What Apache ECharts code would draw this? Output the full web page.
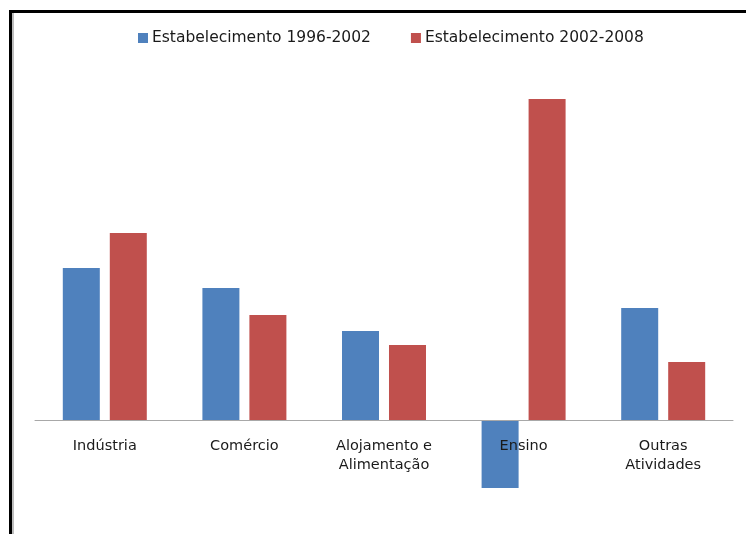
<!DOCTYPE html>
<html>
<head>
<meta charset="utf-8">
<script src="https://cdn.jsdelivr.net/npm/echarts@6/dist/echarts.min.js"></script>
<style>html,body{margin:0;padding:0;background:#fff}#c{width:746px;height:534px}</style>
</head>
<body>
<div id="c"></div>
<script>
var categories = ['Indústria', 'Comércio', 'Alojamento e\nAlimentação', 'Ensino', 'Outras\nAtividades'];
var seriesNames = ['Estabelecimento 1996-2002', 'Estabelecimento 2002-2008'];
var values1996 = [152, 132, 89, -68, 112];
var values2002 = [187, 105, 75, 321, 58];

var chart = echarts.init(document.getElementById('c'));
chart.setOption({
  backgroundColor: '#fff',
  animation: false,
  textStyle: { fontFamily: 'DejaVu Sans' },
  legend: {
    top: 25,
    left: 133,
    itemWidth: 10,
    itemHeight: 10,
    itemGap: 40,
    icon: 'rect',
    textStyle: { fontSize: 15.5, color: '#1a1a1a', fontFamily: 'DejaVu Sans', padding: [0, 0, 0, -1] },
    data: seriesNames
  },
  grid: { left: 35, right: 13, top: 99, bottom: 114, containLabel: false, outerBoundsMode: 'none' },
  xAxis: {
    type: 'category',
    data: categories,
    z: 10,
    axisLine: { onZero: true, lineStyle: { color: '#a8a8a8', width: 1 } },
    axisTick: { show: false },
    axisLabel: { color: '#1a1a1a', fontSize: 14.5, lineHeight: 19, margin: 17, fontFamily: 'DejaVu Sans', interval: 0 }
  },
  yAxis: {
    type: 'value',
    min: 0,
    max: 321,
    show: false,
    splitLine: { show: false }
  },
  series: [
    { name: seriesNames[0], type: 'bar', data: values1996, barWidth: 37, barGap: '27%', clip: false, itemStyle: { color: '#4f81bd' } },
    { name: seriesNames[1], type: 'bar', data: values2002, barWidth: 37, clip: false, itemStyle: { color: '#c0504d' } }
  ],
  graphic: [
    { type: 'rect', shape: { x: 9, y: 10, width: 800, height: 3 }, style: { fill: '#000' }, z: 100 },
    { type: 'rect', shape: { x: 9, y: 10, width: 3, height: 600 }, style: { fill: '#000' }, z: 100 },
    { type: 'rect', shape: { x: 12, y: 13, width: 2, height: 600 }, style: { fill: '#bdbdbd' }, z: 100 }
  ]
});
</script>
</body>
</html>
